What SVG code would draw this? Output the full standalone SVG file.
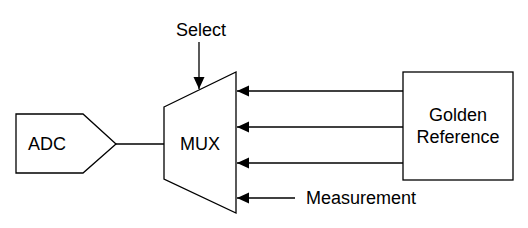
<svg xmlns="http://www.w3.org/2000/svg" width="528" height="228" viewBox="0 0 528 228">
<style>
.s{fill:#fff;stroke:#000;stroke-width:1.3}
.l{fill:none;stroke:#000;stroke-width:1.3}
.t{font-family:"Liberation Sans",Arial,sans-serif;font-size:18px;fill:#000;text-anchor:middle}
</style>
<defs>
<marker id="a" markerWidth="12" markerHeight="12" viewBox="0 0 12 12" refX="12" refY="6" orient="auto" markerUnits="userSpaceOnUse">
<path d="M0,0.5 L12,6 L0,11.5 Z" fill="#000"/>
</marker>
</defs>
<g id="connectors">
<line class="l" x1="116" y1="144" x2="164" y2="144"/>
<line class="l" x1="199" y1="42" x2="199" y2="89" marker-end="url(#a)"/>
<line class="l" x1="403" y1="91" x2="237" y2="91" marker-end="url(#a)"/>
<line class="l" x1="403" y1="127" x2="237" y2="127" marker-end="url(#a)"/>
<line class="l" x1="403" y1="163" x2="237" y2="163" marker-end="url(#a)"/>
<line class="l" x1="295" y1="198" x2="237" y2="198" marker-end="url(#a)"/>
</g>
<g id="adc">
<path class="s" d="M16,114 L83,114 L116,144 L83,173 L16,173 Z"/>
<text class="t" x="47" y="150">ADC</text>
</g>
<g id="mux">
<path class="s" d="M164,107 L236,72 L236,213 L164,179 Z"/>
<text class="t" x="200" y="150">MUX</text>
</g>
<g id="select">
<text class="t" x="201" y="36">Select</text>
</g>
<g id="golden">
<rect class="s" x="403" y="72" width="110" height="108"/>
<text class="t" x="458" y="121">Golden</text>
<text class="t" x="458" y="143">Reference</text>
</g>
<g id="measurement">
<text class="t" x="306" y="204" style="text-anchor:start">Measurement</text>
</g>
</svg>
